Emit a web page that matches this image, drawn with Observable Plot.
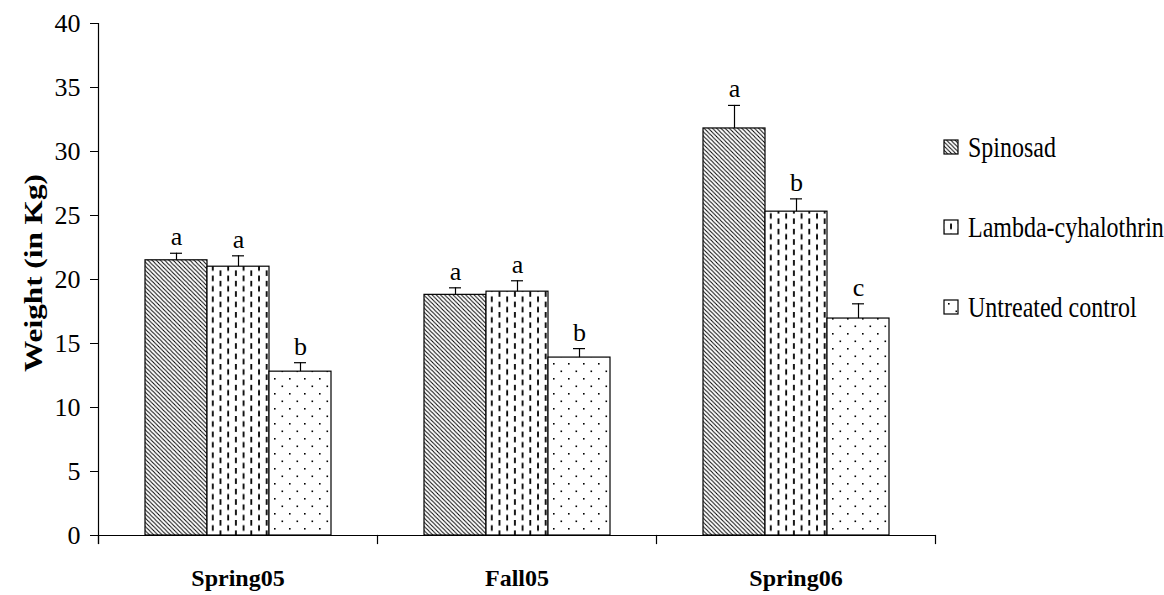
<!DOCTYPE html>
<html>
<head>
<meta charset="utf-8">
<script src="https://cdn.jsdelivr.net/npm/d3@7"></script>
<script src="https://cdn.jsdelivr.net/npm/@observablehq/plot@0.6"></script>
<style>
  html, body { margin: 0; padding: 0; background: #fff; }
  #wrap { position: relative; width: 1164px; height: 595px; font-family: 'Liberation Serif', 'Times New Roman', serif; }
  #defs { position: absolute; width: 0; height: 0; overflow: hidden; }
  #overlay { position: absolute; left: 0; top: 0; font-family: 'Liberation Serif', 'Times New Roman', serif; }
</style>
</head>
<body>
<svg id="defs" width="0" height="0">
  <defs>
    <pattern id="pSpinosad" patternUnits="userSpaceOnUse" width="4.2" height="4.2">
      <rect width="4.2" height="4.2" fill="#fff"/>
      <path d="M-1,-1 L5.2,5.2 M3.2,-1 L5.2,1 M-1,3.2 L1,5.2" stroke="#000" stroke-width="1"/>
    </pattern>
    <pattern id="pLambda" patternUnits="userSpaceOnUse" width="15.4" height="10.4">
      <rect width="15.4" height="10.4" fill="#fff"/>
      <rect x="3" y="0" width="1.8" height="5.6" fill="#000"/>
      <rect x="10.7" y="5.2" width="1.8" height="5.2" fill="#000"/>
      <rect x="10.7" y="0" width="1.8" height="0.4" fill="#000"/>
    </pattern>
    <pattern id="pUntreated" patternUnits="userSpaceOnUse" width="15" height="15">
      <rect width="15" height="15" fill="#fff"/>
      <rect x="3" y="3" width="1.6" height="1.6" fill="#000"/>
      <rect x="10.5" y="10.5" width="1.6" height="1.6" fill="#000"/>
    </pattern>
  </defs>
</svg>
<div id="wrap"></div>
<script>
// ---- data ----
const seasons = ["Spring05", "Fall05", "Spring06"];
const treatments = ["Spinosad", "Lambda-cyhalothrin", "Untreated control"];
const spinosadMean = [21.5, 18.8, 31.8];
const spinosadErr = [0.55, 0.55, 1.8];
const spinosadLetters = ["a", "a", "a"];
const lambdaMean = [21.0, 19.05, 25.3];
const lambdaErr = [0.85, 0.85, 1.0];
const lambdaLetters = ["a", "a", "b"];
const untreatedMean = [12.8, 13.9, 16.95];
const untreatedErr = [0.7, 0.7, 1.15];
const untreatedLetters = ["b", "b", "c"];
const yTicks = [0, 5, 10, 15, 20, 25, 30, 35, 40];
const yLabel = "Weight (in Kg)";
const patternFills = ["url(#pSpinosad)", "url(#pLambda)", "url(#pUntreated)"];

const series = [
  [spinosadMean, spinosadErr, spinosadLetters],
  [lambdaMean, lambdaErr, lambdaLetters],
  [untreatedMean, untreatedErr, untreatedLetters]
];
const data = [];
seasons.forEach((s, i) => {
  treatments.forEach((t, j) => {
    const [m, e, l] = series[j];
    data.push({season: s, treatment: t, mean: m[i], err: e[i], letter: l[i]});
  });
});

const W = 1164, H = 595;
const mTop = 23, mBottom = 60, mLeft = 97, mRight = 228;
const innerH = H - mTop - mBottom;
const font = "'Liberation Serif', 'Times New Roman', serif";

const chart = Plot.plot({
  width: W,
  height: H,
  marginTop: mTop,
  marginBottom: mBottom,
  marginLeft: mLeft,
  marginRight: mRight,
  style: {fontFamily: font, background: "#fff", color: "#000", overflow: "visible"},
  fx: {domain: seasons, padding: 0, label: null},
  x: {domain: treatments, paddingInner: 0, paddingOuter: 0.75, axis: null},
  y: {domain: [0, 40], label: null},
  color: {domain: treatments, range: patternFills},
  marks: [
    Plot.barY(data, {fx: "season", x: "treatment", y: "mean", fill: "treatment", stroke: "#000", strokeWidth: 1.2}),
    Plot.ruleX(data, {fx: "season", x: "treatment", y1: "mean", y2: d => d.mean + d.err, stroke: "#000", strokeWidth: 1.2}),
    Plot.tickY(data, {fx: "season", x: "treatment", y: d => d.mean + d.err, insetLeft: 25, insetRight: 25, stroke: "#000", strokeWidth: 1.2}),
    Plot.text(data, {fx: "season", x: "treatment", y: d => d.mean + d.err, text: "letter", dy: -8, lineAnchor: "bottom", fontSize: 26, fill: "#000"}),
    Plot.ruleY([0], {stroke: "#000", strokeWidth: 1.2}),
    // y axis line + its bottom tick
    Plot.frame({anchor: "left", insetBottom: -8, facetAnchor: "left", stroke: "#000", strokeWidth: 1.2}),
    // category boundary ticks
    Plot.frame({anchor: "left", insetTop: innerH, insetBottom: -8, stroke: "#000", strokeWidth: 1.2}),
    Plot.frame({anchor: "right", insetTop: innerH, insetBottom: -8, facetAnchor: "right", stroke: "#000", strokeWidth: 1.2}),
    Plot.axisY({ticks: yTicks, tickSize: 8, tickPadding: 10, fontSize: 26, label: null, tickFormat: d => String(d), stroke: "#000"}),
    Plot.axisFx({anchor: "bottom", tickSize: 0, tickPadding: 33, fontSize: 24, fontWeight: "bold", label: null})
  ]
});
document.getElementById("wrap").appendChild(chart);

// ---- overlay: axis title + legend ----
const ns = "http://www.w3.org/2000/svg";
const ov = document.createElementNS(ns, "svg");
ov.setAttribute("id", "overlay");
ov.setAttribute("width", W);
ov.setAttribute("height", H);
ov.style.pointerEvents = "none";

const title = document.createElementNS(ns, "text");
title.setAttribute("transform", `translate(${mLeft - 55},${mTop + innerH / 2 - 6}) scale(1,1.25) rotate(-90)`);
title.setAttribute("text-anchor", "middle");
title.setAttribute("font-weight", "bold");
title.setAttribute("font-size", 25);
title.style.fontFamily = font;
title.setAttribute("fill", "#000");
title.textContent = yLabel;
ov.appendChild(title);

const baselines = [157, 237, 317];
treatments.forEach((t, i) => {
  const r = document.createElementNS(ns, "rect");
  r.setAttribute("x", 944);
  r.setAttribute("y", baselines[i] - 17);
  r.setAttribute("width", 14);
  r.setAttribute("height", 14);
  r.setAttribute("fill", patternFills[i]);
  r.setAttribute("stroke", "#000");
  r.setAttribute("stroke-width", 1.2);
  ov.appendChild(r);
  const tx = document.createElementNS(ns, "text");
  tx.setAttribute("transform", `translate(968,${baselines[i]}) scale(1,1.2)`);
  tx.style.fontFamily = font;
  tx.setAttribute("font-size", 24);
  tx.setAttribute("fill", "#000");
  tx.textContent = t;
  ov.appendChild(tx);
});
document.getElementById("wrap").appendChild(ov);
</script>
</body>
</html>
